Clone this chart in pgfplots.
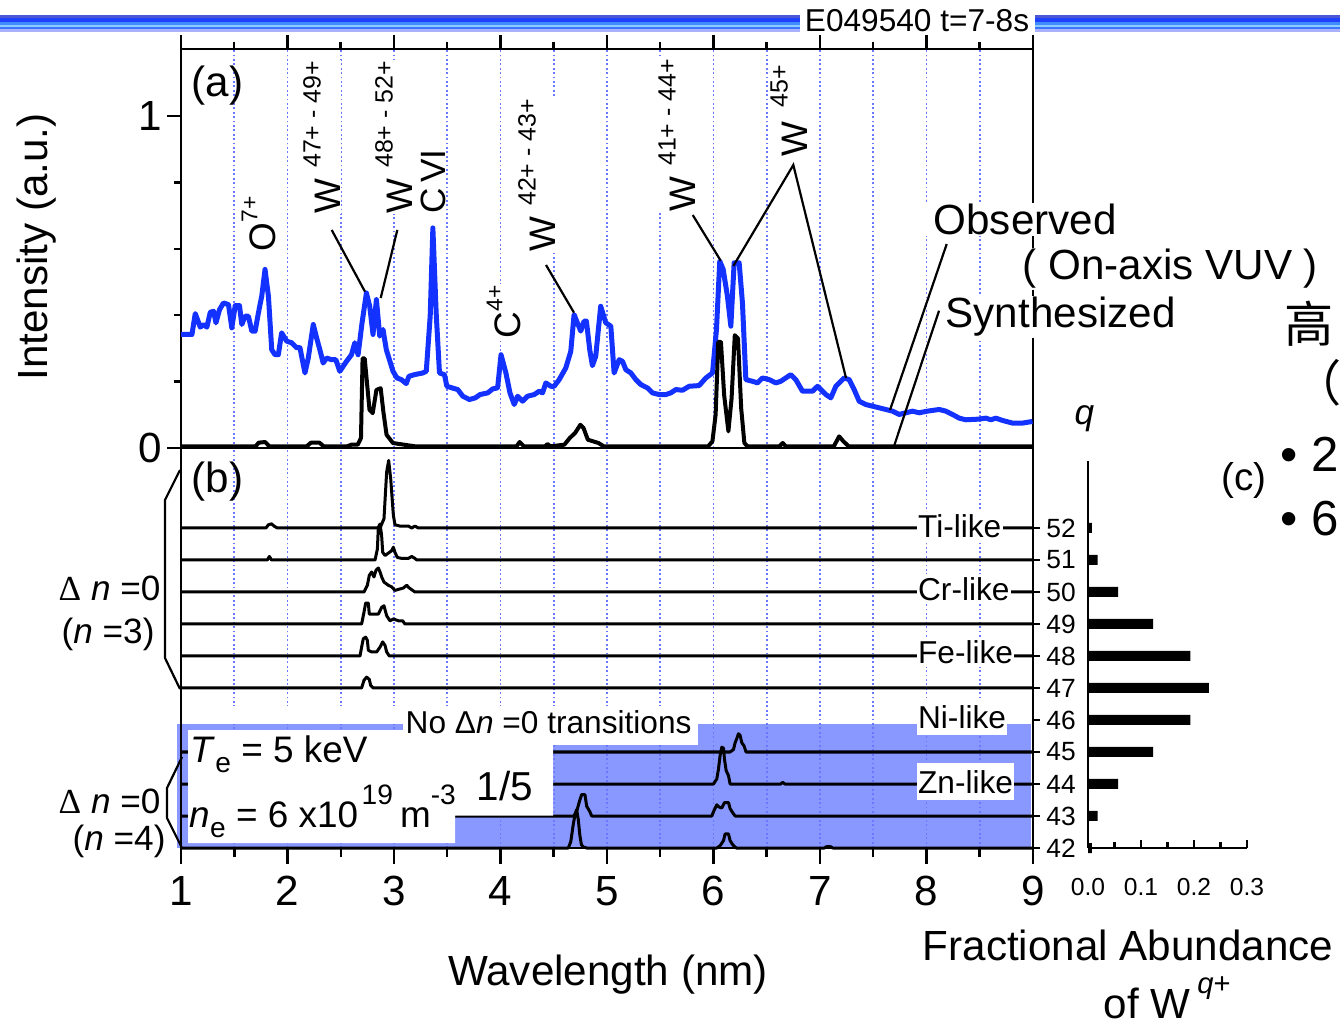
\documentclass[border=0pt]{standalone}
\usepackage{fontspec}
\setmainfont{Liberation Sans}
\newfontfamily\seriffont{Liberation Serif}
\newfontfamily\cjk{Noto Sans CJK SC}
\usepackage{pgfplots}
\pgfplotsset{compat=1.18}
\newcommand{\fs}[1]{\fontsize{#1}{#1}\selectfont}
\newcommand{\up}[3]{\raisebox{#1}{\fs{#2}#3}}
\definecolor{obsblue}{RGB}{20,50,255}
\definecolor{gridblue}{RGB}{105,120,255}
\definecolor{regblue}{RGB}{136,152,255}
\definecolor{bA}{RGB}{74,88,214}
\definecolor{bB}{RGB}{32,64,255}
\definecolor{bC}{RGB}{64,140,255}
\definecolor{bD}{RGB}{140,205,255}
\definecolor{bE}{RGB}{60,120,255}
\definecolor{bF}{RGB}{170,178,255}
\pgfplotsset{
  myaxis/.style={scale only axis, width=85.2mm, xmin=1, xmax=9, clip=false,
    axis line style={line width=0.25mm},
    tick style={black, line width=0.25mm},
    xtick={1,...,9}, minor xtick={1.5,2.5,...,8.5},
    xmajorgrids, xminorgrids,
    major grid style={gridblue, line width=0.16mm, dash pattern=on 0.18mm off 0.26mm},
    minor grid style={gridblue, line width=0.16mm, dash pattern=on 0.18mm off 0.26mm},
    /pgf/number format/assume math mode=true,
    tick align=outside,
    tick label style={font=\fs{12}},
  },
  sp/.style={black, solid, line width=0.3mm, mark=none, line join=round},
}
\begin{document}
\begin{tikzpicture}
% ---------- background ----------
\begin{scope}[x=0.1mm,y=-0.1mm]
  \fill[bA] (0,15) rectangle (1340,18);
  \fill[bB] (0,18) rectangle (1340,22);
  \fill[bC] (0,22) rectangle (1340,25);
  \fill[bD] (0,25) rectangle (1340,27);
  \fill[bE] (0,27) rectangle (1340,29);
  \fill[bF] (0,29) rectangle (1340,32);
  \fill[white] (800,6) rectangle (1035,35);
  \node[inner sep=0, font=\fs{9}] at (917,21) {E049540 t=7-8s};
  \fill[regblue] (177,724) rectangle (1031,848);
\end{scope}

% ---------- panel (a) ----------
\begin{axis}[myaxis, at={(18.1mm,-44.8mm)}, anchor=south west, height=39.9mm,
  ymin=0, ymax=1.202,
  xtick pos=right, xticklabel=\empty,
  ytick={0,1}, minor ytick={0.2,0.4,0.6,0.8}, ytick pos=left,
  yticklabel style={xshift=0.7mm},
  major tick length=1.4mm, minor tick length=0.7mm]
\addplot[obsblue, line width=0.5mm, mark=none, line join=round] coordinates {
(1.000,0.342) (1.103,0.342) (1.134,0.405) (1.181,0.364) (1.212,0.372) (1.243,0.364)
(1.275,0.409) (1.306,0.412) (1.328,0.377) (1.362,0.417) (1.399,0.437) (1.446,0.432)
(1.477,0.362) (1.509,0.429) (1.549,0.429) (1.571,0.372) (1.602,0.397) (1.633,0.397)
(1.665,0.352) (1.696,0.352) (1.727,0.407) (1.758,0.457) (1.789,0.538) (1.821,0.457)
(1.852,0.296) (1.883,0.281) (1.914,0.281) (1.945,0.347) (1.992,0.322) (2.039,0.317)
(2.086,0.302) (2.117,0.302) (2.164,0.226) (2.195,0.271) (2.242,0.372) (2.273,0.332)
(2.304,0.296) (2.335,0.256) (2.367,0.271) (2.413,0.266) (2.454,0.266) (2.491,0.231)
(2.554,0.261) (2.601,0.281) (2.632,0.317) (2.663,0.281) (2.700,0.377) (2.741,0.467)
(2.772,0.427) (2.803,0.342) (2.835,0.447) (2.866,0.337) (2.897,0.357) (2.928,0.296)
(2.991,0.231) (3.028,0.211) (3.069,0.206) (3.115,0.194) (3.140,0.216) (3.193,0.221)
(3.271,0.226) (3.303,0.231) (3.340,0.397) (3.365,0.663) (3.396,0.407) (3.427,0.226)
(3.474,0.221) (3.496,0.186) (3.546,0.181) (3.599,0.176) (3.646,0.156) (3.708,0.146)
(3.764,0.151) (3.808,0.161) (3.880,0.166) (3.927,0.178) (3.973,0.181) (4.005,0.281)
(4.051,0.226) (4.089,0.166) (4.129,0.131) (4.161,0.156) (4.207,0.141) (4.254,0.156)
(4.317,0.161) (4.363,0.171) (4.395,0.166) (4.426,0.196) (4.473,0.186) (4.504,0.186)
(4.551,0.206) (4.613,0.241) (4.660,0.291) (4.691,0.402) (4.722,0.377) (4.754,0.352)
(4.785,0.382) (4.807,0.382) (4.838,0.296) (4.863,0.248) (4.894,0.276) (4.941,0.427)
(4.989,0.377) (5.036,0.367) (5.067,0.226) (5.114,0.266) (5.146,0.261) (5.177,0.236)
(5.224,0.226) (5.271,0.206) (5.318,0.191) (5.380,0.181) (5.427,0.166) (5.490,0.161)
(5.552,0.161) (5.599,0.166) (5.646,0.176) (5.709,0.174) (5.772,0.186) (5.865,0.188)
(5.928,0.211) (5.991,0.226) (6.028,0.357) (6.059,0.563) (6.091,0.538) (6.131,0.457)
(6.163,0.367) (6.194,0.558) (6.241,0.558) (6.272,0.437) (6.304,0.206) (6.366,0.201)
(6.413,0.196) (6.460,0.211) (6.523,0.206) (6.585,0.196) (6.632,0.201) (6.679,0.211)
(6.726,0.221) (6.773,0.206) (6.836,0.171) (6.930,0.171) (6.977,0.186) (7.008,0.176)
(7.055,0.161) (7.102,0.151) (7.149,0.186) (7.227,0.211) (7.274,0.206) (7.321,0.176)
(7.368,0.141) (7.430,0.131) (7.493,0.126) (7.556,0.121) (7.618,0.116) (7.681,0.111)
(7.743,0.101) (7.806,0.106) (7.869,0.111) (7.931,0.106) (8.009,0.111) (8.119,0.116)
(8.182,0.111) (8.244,0.101) (8.307,0.090) (8.369,0.085) (8.495,0.087) (8.557,0.090)
(8.604,0.085) (8.651,0.090) (8.714,0.083) (8.808,0.075) (8.901,0.075) (8.995,0.080)
};
\addplot[black, line width=0.4mm, mark=none, line join=round] coordinates {
(1.000,0.005) (1.700,0.005) (1.730,0.016) (1.790,0.018) (1.830,0.005) (2.180,0.005)
(2.220,0.016) (2.300,0.016) (2.340,0.005) (2.560,0.005) (2.600,0.010) (2.660,0.010)
(2.690,0.030) (2.705,0.270) (2.725,0.270) (2.770,0.115) (2.800,0.105) (2.835,0.175)
(2.875,0.180) (2.900,0.110) (2.930,0.040) (2.990,0.015) (3.050,0.012) (3.200,0.005)
(4.150,0.005) (4.180,0.018) (4.220,0.005) (4.420,0.005) (4.440,0.012) (4.470,0.005)
(4.600,0.010) (4.650,0.030) (4.700,0.045) (4.750,0.070) (4.780,0.060) (4.820,0.025)
(4.870,0.020) (4.920,0.015) (4.970,0.005) (5.950,0.005) (5.990,0.020) (6.020,0.100)
(6.045,0.320) (6.070,0.320) (6.100,0.160) (6.140,0.050) (6.170,0.150) (6.200,0.340)
(6.230,0.330) (6.260,0.120) (6.290,0.015) (6.320,0.005) (6.620,0.005) (6.650,0.015)
(6.680,0.005) (7.130,0.005) (7.180,0.035) (7.220,0.020) (7.270,0.005) (9.000,0.005)
};
\end{axis}

% ---------- panel (b) ----------
\begin{axis}[myaxis, at={(18.1mm,-84.8mm)}, anchor=south west, height=40mm,
  ymin=42, ymax=54.5,
  xtick pos=left,
  ytick={42,...,52}, ytick pos=right, yticklabel pos=right,
  ytick style={/pgfplots/major tick length=0.7mm},
  yticklabel style={font=\fs{7.5}, xshift=-1.5mm},
  major tick length=1.6mm, minor tick length=0.9mm]
% Ti-like q=52
\addplot[sp] coordinates {(1,52) (1.798,52) (1.820,52.10) (1.851,52.13) (1.873,52.06) (1.905,52)
 (2.869,52) (2.906,52.29) (2.931,53.75) (2.950,54.11) (2.969,53.54) (2.994,52.40) (3.009,52.10)
 (3.056,52.06) (3.135,52.06) (3.166,52) (3.197,52.06) (3.228,52) (9,52)};
% q=51
\addplot[sp] coordinates {(1,51) (1.810,51) (1.830,51.11) (1.850,51) (2.822,51) (2.844,51.34)
 (2.853,52.02) (2.869,52.125) (2.884,51.76) (2.894,51.24) (2.916,51.14) (2.978,51.29)
 (2.994,51.40) (3.009,51.24) (3.031,51.08) (3.072,51.05) (3.135,51.05) (3.166,51.11)
 (3.197,51.05) (3.213,51) (9,51)};
% Cr-like q=50
\addplot[sp] coordinates {(1,50) (2.718,50) (2.750,50.21) (2.768,50.52) (2.790,50.625) (2.812,50.47)
 (2.831,50.68) (2.853,50.75) (2.869,50.625) (2.884,50.47) (2.906,50.31) (2.947,50.21)
 (2.978,50.16) (3.009,50.05) (3.041,50.08) (3.088,50.125) (3.119,50.21) (3.144,50.125)
 (3.175,50.05) (3.197,50) (9,50)};
% q=49
\addplot[sp] coordinates {(1,49) (2.696,49) (2.718,49.365) (2.734,49.656) (2.759,49.656) (2.768,49.31)
 (2.806,49.31) (2.853,49.31) (2.884,49.52) (2.906,49.57) (2.931,49.26) (2.962,49.10)
 (2.994,49.156) (3.009,49.14) (3.041,49.10) (3.081,49.10) (3.103,49) (9,49)};
% Fe-like q=48
\addplot[sp] coordinates {(1,48) (2.681,48) (2.696,48.28) (2.712,48.54) (2.734,48.59) (2.750,48.49)
 (2.759,48.18) (2.790,48.125) (2.837,48.125) (2.869,48.28) (2.894,48.44) (2.916,48.33)
 (2.931,48.125) (2.956,48) (9,48)};
% q=47
\addplot[sp] coordinates {(1,47) (2.696,47) (2.718,47.24) (2.743,47.34) (2.768,47.27) (2.781,47.08)
 (2.806,47) (9,47)};
% q=45
\addplot[sp] coordinates {(1,45) (6.156,45) (6.188,45.08) (6.203,45.29) (6.219,45.42) (6.234,45.57)
 (6.250,45.52) (6.266,45.29) (6.287,45.19) (6.306,45) (9,45)};
% Zn-like q=44
\addplot[sp] coordinates {(1,44) (6.000,44) (6.031,44.16) (6.047,44.47) (6.062,44.89) (6.078,45.15)
 (6.094,45.12) (6.103,44.78) (6.119,44.42) (6.141,44.26) (6.156,44) (6.63,44) (6.65,44.05)
 (6.67,44) (9,44)};
% q=43
\addplot[sp] coordinates {(1,43) (4.690,43) (4.720,43.2) (4.745,43.5) (4.762,43.67) (4.793,43.67)
 (4.809,43.31) (4.840,43.13) (4.856,43) (5.984,43) (6.006,43.18) (6.031,43.35) (6.053,43.28)
 (6.078,43.25) (6.103,43.42) (6.141,43.42) (6.156,43.23) (6.181,43.10) (6.203,43) (9,43)};
% q=42
\addplot[sp] coordinates {(1,42) (4.637,42) (4.660,42.2) (4.684,42.75) (4.700,43.05) (4.715,43.2)
 (4.730,42.9) (4.745,42.4) (4.760,42.1) (4.780,42.03) (4.810,42) (6.031,42) (6.062,42.07)
 (6.094,42.23) (6.109,42.44) (6.141,42.44) (6.156,42.23) (6.181,42.10) (6.213,42) (7.04,42)
 (7.06,42.04) (7.10,42.04) (7.12,42) (9,42)};
\end{axis}

% ---------- panel (c) ----------
\begin{axis}[at={(108.8mm,-84.8mm)}, anchor=south west, scale only axis,
  width=15.9mm, height=38.7mm, xmin=0, xmax=0.3, ymin=42, ymax=54.09,
  axis x line=bottom, axis y line=left, axis line style={-, line width=0.25mm},
  tick style={black, line width=0.25mm},
  xtick={0,0.1,0.2,0.3}, xticklabels={0.0,0.1,0.2,0.3}, minor xtick={0.05,0.15,0.25},
  ytick=\empty, tick align=inside, major tick length=0.8mm, minor tick length=0.6mm,
  xticklabel style={font=\fs{7}, yshift=-1.8mm},
  xbar, bar width=1mm, clip=false]
\addplot[fill=black, draw=none] coordinates {
(0.0075,52) (0.018,51) (0.057,50) (0.123,49) (0.193,48) (0.228,47)
(0.193,46) (0.123,45) (0.057,44) (0.018,43) (0.0075,42)};
\end{axis}

% ---------- foreground ----------
\begin{scope}[x=0.1mm,y=-0.1mm]
  \tikzset{ld/.style={black, line width=0.22mm},
    lab/.style={rotate=90, anchor=base west, fill=white, inner sep=0.3pt, font=\fs{10.5}},
    rl/.style={anchor=base west, fill=white, inner xsep=0.4pt, inner ysep=1pt, font=\fs{9}}}
  % white masks in panel (b)
  \fill[white] (182.5,706) rectangle (403,724);
  \fill[white] (403,706) rectangle (698,745);
  \fill[white] (188,730) -- (553,730) -- (553,815.5) -- (455,815.5) -- (455,843) -- (188,843) -- cycle;
  % panel (a) labels
  \node[anchor=base west, inner sep=0, font=\fs{12}] at (191,97) {(a)};
  \node[lab] at (275,253) {O\up{5pt}{6.5}{7+}};
  \node[lab] at (340,215) {W\hspace{3pt}\up{5.5pt}{7.1}{47+ - 49+}};
  \node[lab] at (412,215) {W\hspace{3pt}\up{5.5pt}{7.1}{48+ - 52+}};
  \node[lab, font=\fs{10}] at (445,215) {C\hspace{1.5pt}VI};
  \node[lab] at (520,340) {C\up{5pt}{6.5}{4+}};
  \node[lab] at (555,253) {W\hspace{3pt}\up{5.5pt}{7.1}{42+ - 43+}};
  \node[lab] at (695,213) {W\hspace{3pt}\up{5.5pt}{7.1}{41+ - 44+}};
  \node[lab] at (807,158) {W\hspace{4pt}\up{5.5pt}{7.1}{45+}};
  \draw[ld] (331.7,230) -- (365,291.7);
  \draw[ld] (397.3,230) -- (380.7,298);
  \draw[ld] (546,265) -- (574,312.7);
  \draw[ld] (692.7,215) -- (720.7,260.7);
  \draw[ld] (733.3,266) -- (793.3,165) -- (846,378);
  % legend-like labels
  \node[anchor=base west, fill=white, inner xsep=0.8mm, inner ysep=0.3pt, font=\fs{12}] at (925,235) {Observed};
  \node[anchor=base west, fill=white, inner xsep=0.3mm, inner ysep=0.3pt, font=\fs{12}] at (1019,280) {( On-axis VUV )};
  \node[anchor=base west, fill=white, inner xsep=0.5mm, inner ysep=0.3pt, font=\fs{12}] at (940,328) {Synthesized};
  \draw[ld] (946.7,244) -- (890,410);
  \draw[ld] (939,310.7) -- (893.3,448.3);
  % panel (b) texts
  \node[anchor=base west, inner sep=0, font=\fs{12}] at (191,492) {(b)};
  \node[rl] at (916,537) {Ti-like};
  \node[rl] at (916,600) {Cr-like};
  \node[rl] at (916,663) {Fe-like};
  \node[rl, inner ysep=2pt] at (916,728) {Ni-like};
  \node[rl, inner ysep=2pt] at (916,793) {Zn-like};
  \node[anchor=base west, inner sep=0, font=\fs{9}] at (405,733) {No Δ\textit{n} =0 transitions};
  \node[anchor=base west, inner sep=0, font=\fs{10.5}] at (190,762) {\textit{T}\up{-3pt}{8}{e} = 5 keV};
  \node[anchor=base west, inner sep=0, font=\fs{10.5}] at (189,827) {\textit{n}\up{-3pt}{8}{e} = 6 x10\hspace{1pt}\up{6.5pt}{8}{19}\hspace{2pt}m\up{6.5pt}{8}{-3}};
  \node[anchor=base west, inner sep=0, font=\fs{11.5}] at (476,800) {1/5};
  % brackets and left labels
  \draw[ld] (180,470) -- (165,500) -- (165,658) -- (180,689);
  \draw[ld] (182,757) -- (167,788) -- (167,818) -- (182,848);
  \node[anchor=base west, inner sep=0, font=\fs{10}] at (58,600) {{\seriffont Δ} \textit{n} =0};
  \node[anchor=base west, inner sep=0, font=\fs{10}] at (61,643) {(\textit{n} =3)};
  \node[anchor=base west, inner sep=0, font=\fs{10}] at (58,813) {{\seriffont Δ} \textit{n} =0};
  \node[anchor=base west, inner sep=0, font=\fs{10}] at (72,850) {(\textit{n} =4)};
  % axis titles
  \node[rotate=90, anchor=base, inner sep=0, font=\fs{12}] at (47,247) {Intensity (a.u.)};
  \node[anchor=base, inner sep=0, font=\fs{12}] at (608,985) {Wavelength (nm)};
  % panel (c) texts
  \node[anchor=base west, inner sep=0, font=\fs{10}] at (1074,425) {\textit{q}};
  \node[anchor=base west, inner sep=0, font=\fs{11}] at (1221,490) {(c)};
  \node[anchor=base, inner sep=0, font=\fs{12}] at (1128,960) {Fractional Abundance};
  \node[anchor=base west, inner sep=0, font=\fs{12}] at (1103,1018) {of W\hspace{2pt}\up{7pt}{8.3}{\textit{q}+}};
  % cut-off text at right edge
  \node[anchor=base west, inner sep=0, font=\cjk\fs{14}] at (1284,343) {高};
  \node[anchor=base west, inner sep=0, font=\cjk\fs{14}] at (1292,402) {（};
  \node[anchor=base west, inner sep=0, font=\fs{14}] at (1280,472) {• 2};
  \node[anchor=base west, inner sep=0, font=\fs{14}] at (1280,535) {• 6};
\end{scope}
\pgfresetboundingbox
\useasboundingbox (0,0) rectangle (134mm,-102.3mm);
\end{tikzpicture}
\end{document}
